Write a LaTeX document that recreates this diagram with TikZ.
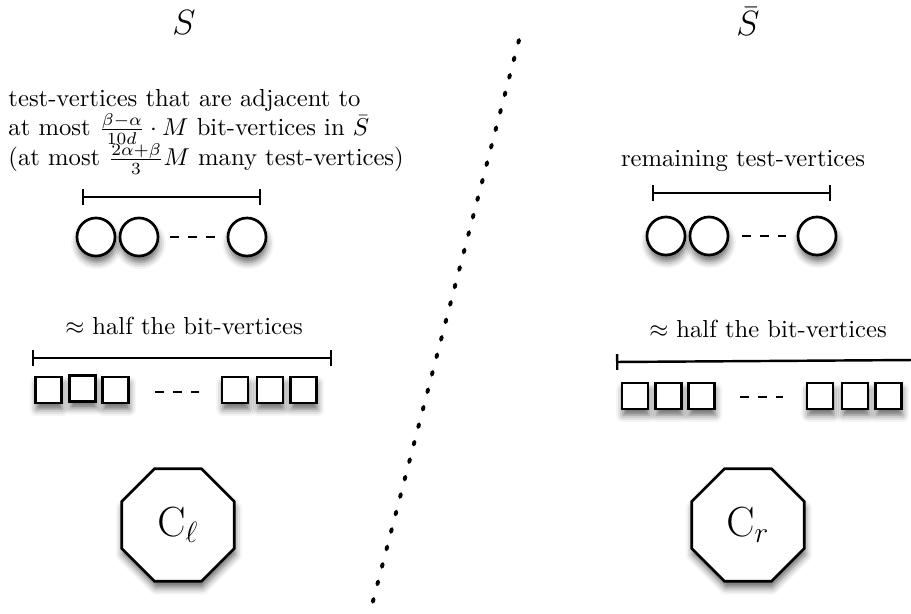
\documentclass[tikz,border=0pt]{standalone}
\usetikzlibrary{shapes.geometric,shadows.blur,arrows.meta}
\begin{document}
\begin{tikzpicture}[x=0.41pt,y=-0.41pt,
  shd/.style={blur shadow={shadow xshift=0.4pt,shadow yshift=-2.6pt,shadow blur radius=2.8pt,shadow opacity=60}},
  vtx/.style={circle,draw,line width=1.1pt,fill=white,minimum size=15.6pt,inner sep=0pt,shd},
  bitv/.style={rectangle,draw,line width=1.1pt,fill=white,minimum size=10.6pt,inner sep=0pt,shd},
  octa/.style={regular polygon,regular polygon sides=8,draw,line width=1.1pt,fill=white,minimum size=50pt,inner sep=0pt,shd,font=\fontsize{17}{20}\selectfont},
  dots/.style={line width=1pt,dash pattern=on 3.7pt off 3.7pt},
  bracket/.style={line width=1pt,{Bar[width=6.4pt,line width=1pt]}-{Bar[width=6.4pt,line width=1pt]}},
  bigl/.style={font=\fontsize{15}{18}\selectfont,inner sep=0pt},
  txt/.style={inner sep=0pt,font=\fontsize{10.1}{12}\selectfont}]
\useasboundingbox (0,0) rectangle (911,614);

% headers
\node[bigl,anchor=base] (S) at (184,35) {$S$};
\node[bigl,anchor=base] (Sb) at (748,36) {$\bar{S}$};

% separator
\coordinate (sepA) at (519,40);
\coordinate (sepB) at (372,605);
\draw[line width=1.6pt,line cap=round,dash pattern=on 1.2pt off 6.2pt] (sepA) -- (sepB);

% left test-vertices
\node[txt,anchor=base west] (lt1) at (8,107) {test-vertices that are adjacent to};
\node[txt,anchor=base west] (lt2) at (8,136) {at most $\frac{\beta-\alpha}{10d}\cdot M$ bit-vertices in $\bar{S}$};
\node[txt,anchor=base west] (lt3) at (8,166) {(at most $\frac{2\alpha+\beta}{3}M$ many test-vertices)};
\coordinate (lbA) at (82,197);
\coordinate (lbB) at (261,197);
\draw[bracket] (lbA) -- (lbB);
\node[vtx] (lc1) at (96,237) {};
\node[vtx] (lc2) at (139,237) {};
\node[vtx] (lc3) at (247,237) {};
\coordinate (ld1) at (170,237);
\coordinate (ld2) at (215,237);
\draw[dots] (ld1) -- (ld2);

% left bit-vertices
\node[txt,anchor=base] (lbit) at (184,335) {$\approx$ half the bit-vertices};
\coordinate (lsA) at (32,358);
\coordinate (lsB) at (332,358);
\draw[bracket] (lsA) -- (lsB);
\node[bitv] (ls1) at (48.5,390) {};
\node[bitv] (ls2) at (82.5,388.5) {};
\node[bitv] (ls3) at (115.5,390) {};
\node[bitv] (ls4) at (235,390) {};
\node[bitv] (ls5) at (270,390) {};
\node[bitv] (ls6) at (303.5,390) {};
\coordinate (lsd1) at (155,392);
\coordinate (lsd2) at (199,392);
\draw[dots] (lsd1) -- (lsd2);

\node[octa] (Cl) at (178,525) {$\mathrm{C}_\ell$};

% right test-vertices
\node[txt,anchor=base] (rtxt) at (743,167) {remaining test-vertices};
\coordinate (rbA) at (652,193);
\coordinate (rbB) at (831,193);
\draw[bracket] (rbA) -- (rbB);
\node[vtx] (rc1) at (666,236) {};
\node[vtx] (rc2) at (709,236) {};
\node[vtx] (rc3) at (817,236) {};
\coordinate (rd1) at (742,236);
\coordinate (rd2) at (786,236);
\draw[dots] (rd1) -- (rd2);

% right bit-vertices
\node[txt,anchor=base] (rbit) at (768,338) {$\approx$ half the bit-vertices};
\coordinate (rsA) at (616,362);
\coordinate (rsB) at (915,360);
\draw[line width=1pt,{Bar[width=6.4pt,line width=1pt]}-] (rsA) -- (rsB);
\node[bitv] (rs1) at (635,396) {};
\node[bitv] (rs2) at (668.5,396) {};
\node[bitv] (rs3) at (701.5,396) {};
\node[bitv] (rs4) at (820,396) {};
\node[bitv] (rs5) at (855,396) {};
\node[bitv] (rs6) at (888.5,396) {};
\coordinate (rsd1) at (740,397);
\coordinate (rsd2) at (783,397);
\draw[dots] (rsd1) -- (rsd2);

\node[octa] (Cr) at (748,525) {$\mathrm{C}_r$};
\end{tikzpicture}
\end{document}
